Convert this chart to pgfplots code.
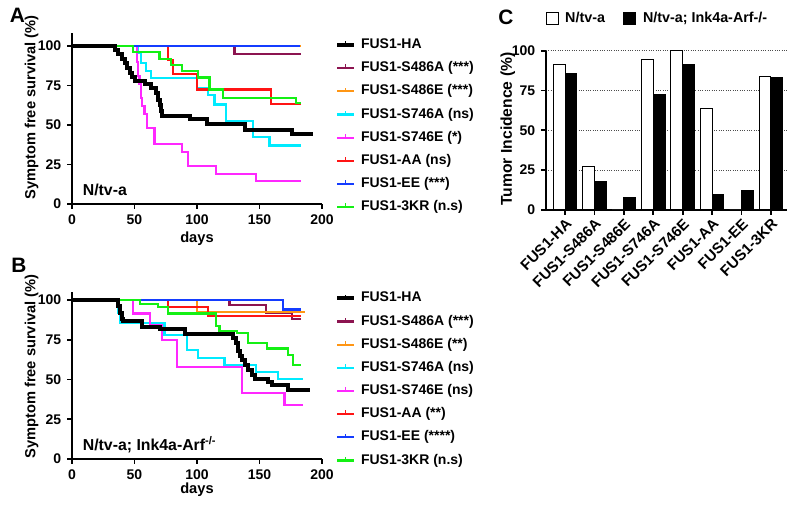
\documentclass[border=0pt]{standalone}
\usepackage{pgfplots}
\pgfplotsset{compat=1.18}
\usepackage{fontspec}
\setmainfont{Liberation Sans}
\newcommand\fa{\fontsize{8.4}{10}\selectfont\bfseries}
\newcommand\fb{\fontsize{9.5}{11}\selectfont\bfseries}
\newcommand\fcx{\fontsize{9}{11}\selectfont\bfseries}
\newcommand\fyl{\fontsize{8.8}{10}\selectfont\bfseries}
\newcommand\fcl{\fontsize{9.4}{11}\selectfont\bfseries}
\newcommand\fleg{\fontsize{8.6}{10}\selectfont\bfseries}
\newcommand\fbig{\fontsize{12.5}{14}\selectfont\bfseries}
\definecolor{cMaroon}{RGB}{140,20,80}
\definecolor{cOrange}{RGB}{255,150,20}
\definecolor{cCyan}{RGB}{0,235,255}
\definecolor{cMag}{RGB}{255,40,255}
\definecolor{cRed}{RGB}{255,20,20}
\definecolor{cBlue}{RGB}{20,60,255}
\definecolor{cGreen}{RGB}{20,240,20}
\pgfplotsset{
  surv/.style={
    scale only axis, width=150pt, xmin=0, xmax=200, ymin=0,
    axis lines=left, axis line style={-, line width=1.1pt},
    tick align=outside, major tick length=3pt,
    tick style={line width=1.1pt, black},
    xtick={0,50,100,150,200}, ytick={0,25,50,75,100},
    tick label style={font=\fa},
    /pgf/number format/assume math mode=true,
    label style={font=\fyl},
    legend cell align=left,
    legend style={draw=none, fill=none, inner sep=0pt, row sep=5.9pt, column sep=3pt, font=\fa,
      nodes={inner sep=0pt, text height=6.2pt, text depth=1.8pt}},
    legend image code/.code={\draw[#1] (0pt,0pt) -- (10pt,0pt); \draw[#1, line width=0.7pt] (5pt,0pt) -- (5pt,2.2pt);},
  },
  cl/.style={const plot, line width=1.3pt},
}
\begin{document}
\begin{tikzpicture}
\useasboundingbox (0,0) rectangle (480pt,304.2pt);
\node[font=\fbig] at (10.5pt,295.2pt) {A};
\node[font=\fbig] at (11.4pt,145.2pt) {B};
\node[font=\fbig] at (303.6pt,293.7pt) {C};

% ---------------- Panel A ----------------
\begin{axis}[surv, at={(43.2pt,181.8pt)}, anchor=south west, height=102.4pt, ymax=108,
  xlabel={days}, ylabel={Symptom free survival (\%)},
  xlabel style={at={(axis description cs:0.5,-0.205)}, anchor=center},
  ylabel style={at={(axis description cs:-0.162,0.566)}, anchor=center},
  legend style={at={(1.052,0.973)}, anchor=north west}]
\addlegendimage{black, line width=2.4pt}
\addlegendentry{FUS1-HA}
\addplot[cl, cMaroon] coordinates {(0,100)(130,95)(183,95)};
\addlegendentry{FUS1-S486A (***)}
\addplot[cl, cOrange] coordinates {(0,100)(183,100)};
\addlegendentry{FUS1-S486E (***)}
\addplot[cl, cCyan] coordinates {(0,100)(53,95.5)(55,89)(59,84)(63,79.5)(100,73.5)(109,69)(114,63)(123,52.5)(145,42.5)(158,37)(183,37)};
\addlegendentry{FUS1-S746A (ns)}
\addplot[cl, cMag] coordinates {(0,100)(52,90)(53,81)(54,76)(55,67)(56,62)(58,57)(60,48)(66,38)(88,33)(93,24)(115,19)(147,14.3)(183,14.3)};
\addlegendentry{FUS1-S746E (*)}
\addplot[cl, cRed] coordinates {(0,100)(77,91)(81,82)(100,72.5)(159,63.5)(183,63.5)};
\addlegendentry{FUS1-AA (ns)}
\addplot[cl, cBlue] coordinates {(0,100)(182,100)};
\addlegendentry{FUS1-EE (***)}
\addplot[cl, cGreen] coordinates {(0,100)(49,96)(70,92)(79,88)(88,84)(101,80)(110,72.5)(121,67)(179,64)(183,64)};
\addlegendentry{FUS1-3KR (n.s)}
\addplot[const plot, black, line width=2.4pt, forget plot] coordinates {(0,100)(34,97.5)(37,95)(40,92)(42,89)(44,86)(46,83)(48,80.5)(50,78)(58,76)(63,73.5)(67,70)(69,66)(70,62.5)(71,59)(72,55.5)(94,53.5)(108,50.5)(138,47)(176,44.5)(193,44.5)};
\node[anchor=west, font=\fb] at (axis cs:4,9) {N/tv-a};
\end{axis}

% ---------------- Panel B ----------------
\begin{axis}[surv, at={(43.2pt,28.8pt)}, anchor=south west, height=100.2pt, ymax=105,
  xlabel={days}, ylabel={Symptom free survival (\%)},
  xlabel style={at={(axis description cs:0.5,-0.186)}, anchor=center},
  ylabel style={at={(axis description cs:-0.162,0.553)}, anchor=center},
  legend style={at={(1.052,1.004)}, anchor=north west}]
\addlegendimage{black, line width=2.4pt}
\addlegendentry{FUS1-HA}
\addplot[cl, cMaroon] coordinates {(0,100)(126,97)(155,92)(176,88)(183,88)};
\addlegendentry{FUS1-S486A (***)}
\addplot[cl, cOrange] coordinates {(0,100)(100,92.5)(186,92.5)};
\addlegendentry{FUS1-S486E (**)}
\addplot[cl, cCyan] coordinates {(0,100)(37,92)(38.5,85.5)(74,78)(92,68.5)(101,63.5)(122,59)(147,54.5)(165,50.5)(185,50.5)};
\addlegendentry{FUS1-S746A (ns)}
\addplot[cl, cMag] coordinates {(0,100)(48.5,91.5)(62.5,84.3)(72,74.8)(84,58)(136,41.7)(170,34)(185,34)};
\addlegendentry{FUS1-S746E (ns)}
\addplot[cl, cRed] coordinates {(0,100)(77,95.8)(109,90)(183,90)};
\addlegendentry{FUS1-AA (**)}
\addplot[cl, cBlue] coordinates {(0,100)(169,94)(183,94)};
\addlegendentry{FUS1-EE (****)}
\addplot[cl, cGreen] coordinates {(0,100)(54.5,97.5)(69,95.5)(77,91.5)(115.5,83.5)(118,80.7)(132,79)(141,73)(156,69.5)(173,65.5)(177,59)(183,59)};
\addlegendentry{FUS1-3KR (n.s)}
\addplot[const plot, black, line width=2.4pt, forget plot] coordinates {(0,100)(37,96)(38.5,92)(40,88)(41,86.5)(56,83.2)(70,82)(90,78.4)(129,76)(131,73)(133,68)(134,64.5)(136,62)(138,59)(141,56)(144,53)(146,50.5)(157,48.5)(160,46.5)(173,43.5)(190,43.5)};
\node[anchor=west, font=\fb] at (axis cs:4,9) {N/tv-a; Ink4a-Arf\textsuperscript{-/-}};
\end{axis}

% ---------------- Panel C ----------------
\begin{axis}[at={(327.6pt,178.2pt)}, anchor=south west, scale only axis,
  width=144.6pt, height=95.6pt, xmin=-0.65, xmax=7.55, ymin=0, ymax=100,
  axis lines=left, axis line style={-, line width=1.1pt},
  tick align=outside, major tick length=3pt, tick style={line width=1.1pt, black},
  xtick={0,...,7},
  xticklabels={FUS1-HA,FUS1-S486A,FUS1-S486E,FUS1-S746A,FUS1-S746E,FUS1-AA,FUS1-EE,FUS1-3KR},
  x tick label style={rotate=45, anchor=north east, font=\fcx, inner sep=1pt},
  ytick={0,25,50,75,100},
  y tick label style={font=\fa},
  /pgf/number format/assume math mode=true,
  ymajorgrids, grid style={densely dotted, black!70, line width=0.6pt},
  ylabel={Tumor Incidence (\%)},
  ylabel style={font=\fcl, at={(axis description cs:-0.158,0.508)}, anchor=center},
  legend columns=2,
  legend style={draw=none, fill=none, at={(0.465,1.199)}, anchor=center, font=\fleg,
    /tikz/every odd column/.append style={column sep=2pt},
    /tikz/every even column/.append style={column sep=9pt}},
  ]
\addplot[ybar, bar width=0.4, bar shift=-0.2, fill=white, draw=black, line width=0.6pt,
  legend image code/.code={\draw[fill=white, draw=black, line width=0.6pt] (0pt,-3.6pt) rectangle (7.2pt,3.6pt);}]
  coordinates {(0,91.5)(1,27.5)(2,0)(3,94.5)(4,100)(5,63.5)(6,0)(7,83.5)};
\addlegendentry{N/tv-a}
\addplot[ybar, bar width=0.4, bar shift=0.2, fill=black, draw=black, line width=0.6pt,
  legend image code/.code={\draw[fill=black, draw=black, line width=0.6pt] (0pt,-3.6pt) rectangle (7.2pt,3.6pt);}]
  coordinates {(0,85.5)(1,18)(2,8)(3,72.5)(4,91.5)(5,10)(6,12)(7,83)};
\addlegendentry{N/tv-a; Ink4a-Arf-/-}
\end{axis}
\end{tikzpicture}
\end{document}
